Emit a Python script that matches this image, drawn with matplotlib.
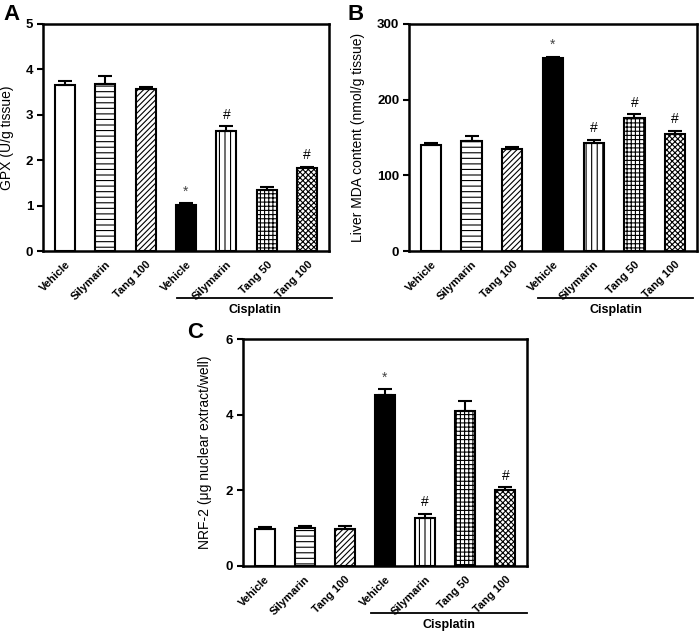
import matplotlib
matplotlib.use("Agg")
import matplotlib.pyplot as plt
from matplotlib.transforms import blended_transform_factory

plt.rcParams['font.family'] = ['Liberation Sans', 'DejaVu Sans']
plt.rcParams['hatch.linewidth'] = 0.8

categories = ["Vehicle", "Silymarin", "Tang 100", "Vehicle", "Silymarin", "Tang 50", "Tang 100"]
hatches = ["", "---", "//////", "", "|||", "++++", "xxxxxx"]
facecolors = ["white", "white", "white", "black", "white", "white", "white"]

gpx_vals = [3.65, 3.67, 3.56, 1.02, 2.65, 1.35, 1.82]
gpx_err = [0.10, 0.19, 0.05, 0.04, 0.10, 0.07, 0.04]
gpx_marks = ["", "", "", "*", "#", "", "#"]

mda_vals = [140, 146, 135, 255, 143, 176, 155]
mda_err = [3, 6, 3, 2, 4, 5, 4]
mda_marks = ["", "", "", "*", "#", "#", "#"]

nrf_vals = [0.97, 1.00, 0.98, 4.53, 1.28, 4.10, 2.00]
nrf_err = [0.07, 0.07, 0.08, 0.15, 0.10, 0.25, 0.08]
nrf_marks = ["", "", "", "*", "#", "", "#"]

W, H = 700, 633
fig = plt.figure(figsize=(W / 100, H / 100), dpi=100)


def rect(l, t, r, b):
    return [l / W, 1 - b / H, (r - l) / W, (b - t) / H]


def panel(r, vals, errs, marks, ylim, yticks, ylabel, letter, letter_xy, ylabel_x, line_x):
    ax = fig.add_axes(rect(*r))
    x = list(range(len(vals)))
    for i in x:
        ax.bar(i, vals[i], width=0.5, color=facecolors[i], edgecolor="black",
               linewidth=1.5, hatch=hatches[i], zorder=2)
        ax.errorbar(i, vals[i], yerr=[[0], [errs[i]]], fmt="none", ecolor="black",
                    elinewidth=1.5, capsize=5, capthick=1.5, zorder=3)
        if marks[i]:
            off = (ylim[1] - ylim[0]) * 0.02
            ax.text(i, vals[i] + errs[i] + off, marks[i], ha="center", va="bottom",
                    fontsize=10, color="#444444" if marks[i] == "*" else "black")
    ax.set_xlim(-0.54, 6.54)
    ax.set_ylim(*ylim)
    ax.set_yticks(yticks)
    ax.set_yticklabels([str(t) for t in yticks], fontsize=9.5, fontweight="bold")
    ax.set_xticks(x)
    ax.set_xticklabels(categories, rotation=45, ha="right", rotation_mode="anchor",
                       fontsize=8, fontweight="bold")
    ax.tick_params(axis="x", length=0, pad=6)
    ax.tick_params(axis="y", direction="out", length=4, width=1.5, pad=3)
    for s in ax.spines.values():
        s.set_linewidth(1.8)
    ax.set_ylabel(ylabel, fontsize=10)
    ax.yaxis.set_label_coords((ylabel_x - r[0]) / (r[2] - r[0]), 0.5)
    tr = blended_transform_factory(ax.transData, ax.transAxes)
    ax.plot(line_x, [-0.207, -0.207], color="black", lw=1.3,
            transform=tr, clip_on=False)
    ax.text(sum(line_x) / 2, -0.26, "Cisplatin", transform=tr, ha="center", va="center",
            fontsize=9, fontweight="bold")
    fig.text(letter_xy[0] / W, 1 - letter_xy[1] / H, letter, fontsize=16,
             fontweight="bold", ha="center", va="center")
    return ax


panel((43, 24, 329, 251), gpx_vals, gpx_err, gpx_marks, (0, 5), [0, 1, 2, 3, 4, 5],
      "GPX (U/g tissue)", "A", (11, 15), 14, [2.77, 6.62])
panel((409, 24, 697, 251), mda_vals, mda_err, mda_marks, (0, 300), [0, 100, 200, 300],
      "Liver MDA content (nmol/g tissue)", "B", (356, 15), 365, [2.62, 6.45])
panel((243, 339, 527, 566), nrf_vals, nrf_err, nrf_marks, (0, 6), [0, 2, 4, 6],
      "NRF-2 (μg nuclear extract/well)", "C", (195, 333), 212, [2.66, 6.55])

fig.savefig("out.png", dpi=100)
